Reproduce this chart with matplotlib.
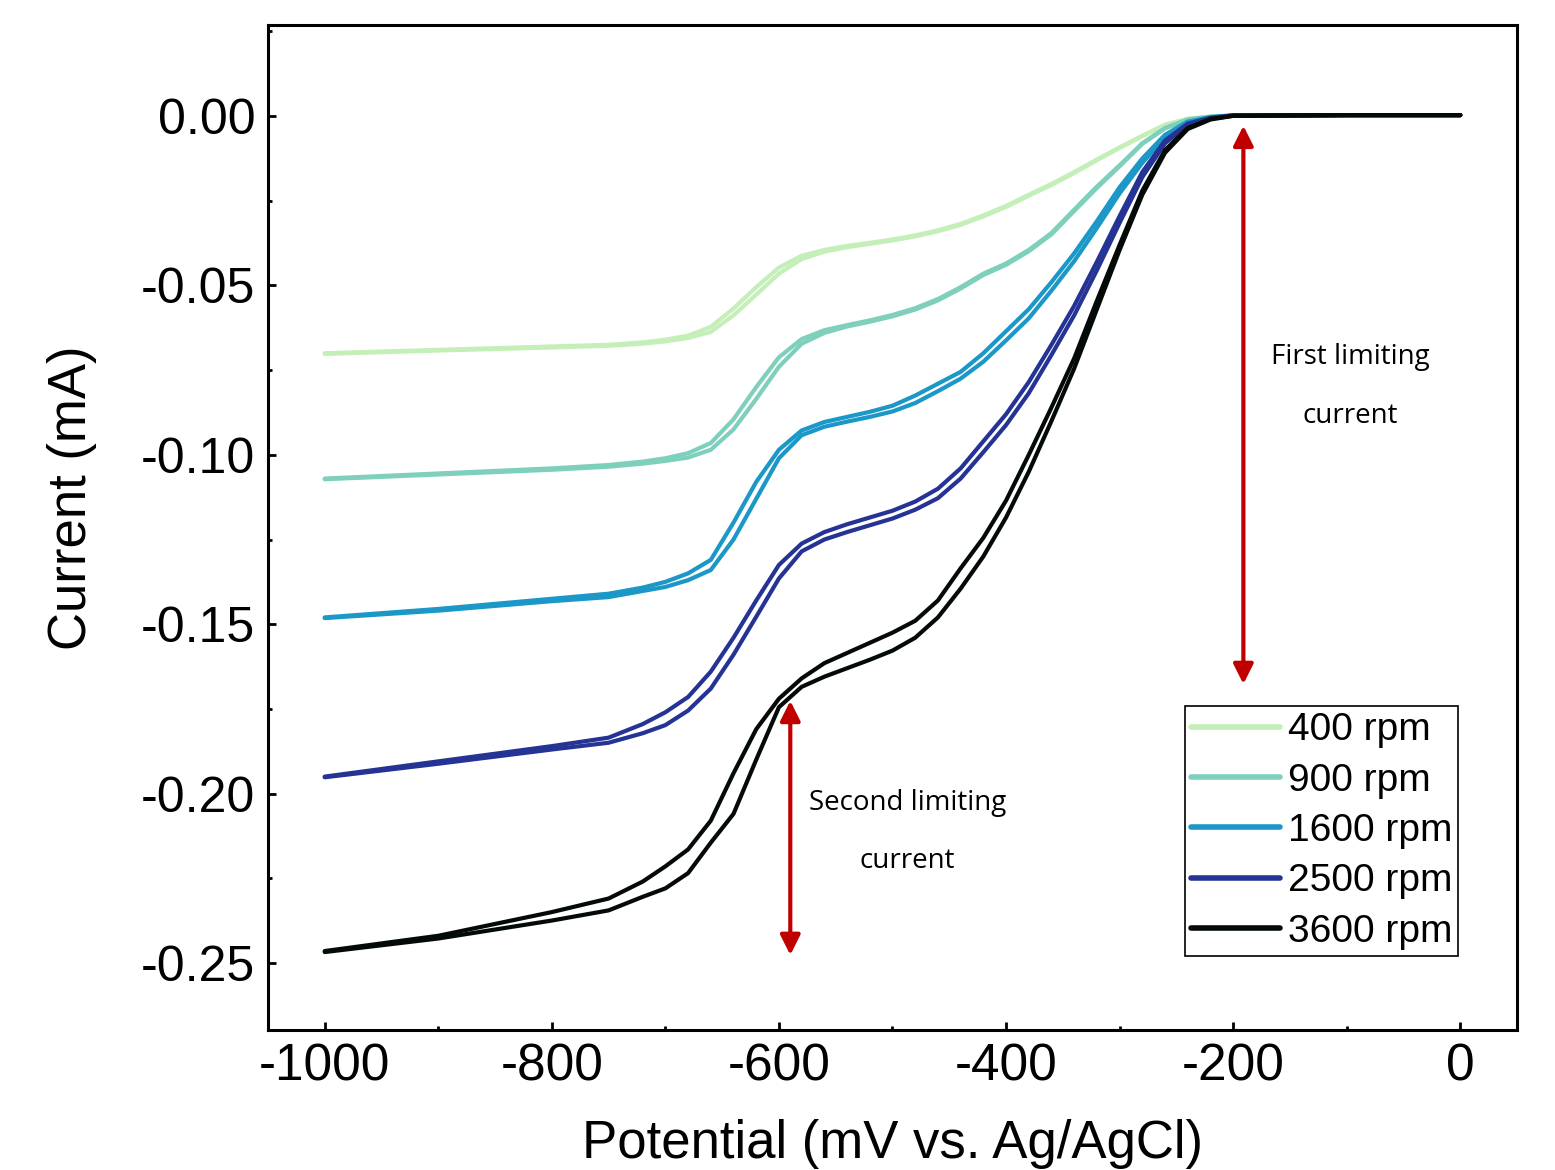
import matplotlib
matplotlib.use("Agg")
import matplotlib.pyplot as plt
from matplotlib.ticker import MultipleLocator

plt.rcParams['font.family'] = ['Liberation Sans', 'DejaVu Sans']
plt.rcParams['axes.unicode_minus'] = False

# potential grid (mV vs. Ag/AgCl)
potential = [-1000, -900, -800, -750, -720, -700, -680, -660, -640, -620, -600, -580,
             -560, -540, -520, -500, -480, -460, -440, -420, -400, -380, -360, -340,
             -320, -300, -280, -260, -240, -220, -200, -100, 0]

# current (mA), two sweeps per rotation rate
i400_a = [-0.0700, -0.0690, -0.0680, -0.0675, -0.0668, -0.0660, -0.0648, -0.0622, -0.0568,
          -0.0505, -0.0447, -0.0412, -0.0395, -0.0383, -0.0374, -0.0364, -0.0352, -0.0337,
          -0.0318, -0.0293, -0.0265, -0.0232, -0.0200, -0.0165, -0.0128, -0.0092, -0.0058,
          -0.0025, -0.0008, -0.0001, 0.0002, 0.0003, 0.0003]
i400_b = [-0.0702, -0.0692, -0.0683, -0.0678, -0.0672, -0.0665, -0.0655, -0.0637, -0.0588,
          -0.0527, -0.0465, -0.0422, -0.0400, -0.0387, -0.0377, -0.0367, -0.0355, -0.0340,
          -0.0321, -0.0296, -0.0268, -0.0235, -0.0203, -0.0168, -0.0130, -0.0094, -0.0059,
          -0.0026, -0.0008, -0.0001, 0.0002, 0.0003, 0.0003]

i900_a = [-0.1070, -0.1055, -0.1040, -0.1030, -0.1020, -0.1010, -0.0995, -0.0965, -0.0895,
          -0.0800, -0.0712, -0.0658, -0.0632, -0.0617, -0.0603, -0.0587, -0.0567, -0.0540,
          -0.0505, -0.0465, -0.0435, -0.0395, -0.0345, -0.0276, -0.0208, -0.0145, -0.0080,
          -0.0035, -0.0010, -0.0002, 0.0002, 0.0003, 0.0003]
i900_b = [-0.1072, -0.1058, -0.1044, -0.1035, -0.1026, -0.1018, -0.1008, -0.0985, -0.0925,
          -0.0835, -0.0740, -0.0672, -0.0640, -0.0621, -0.0607, -0.0591, -0.0571, -0.0544,
          -0.0509, -0.0469, -0.0439, -0.0399, -0.0349, -0.0280, -0.0212, -0.0148, -0.0082,
          -0.0036, -0.0010, -0.0002, 0.0002, 0.0003, 0.0003]

i1600_a = [-0.1480, -0.1455, -0.1425, -0.1410, -0.1392, -0.1375, -0.1350, -0.1310, -0.1200,
           -0.1080, -0.0985, -0.0928, -0.0903, -0.0888, -0.0873, -0.0855, -0.0825, -0.0790,
           -0.0755, -0.0700, -0.0635, -0.0570, -0.0490, -0.0405, -0.0310, -0.0210, -0.0125,
           -0.0055, -0.0016, -0.0003, 0.0002, 0.0003, 0.0003]
i1600_b = [-0.1482, -0.1460, -0.1432, -0.1420, -0.1402, -0.1390, -0.1370, -0.1340, -0.1250,
           -0.1130, -0.1010, -0.0942, -0.0917, -0.0902, -0.0888, -0.0872, -0.0847, -0.0812,
           -0.0775, -0.0725, -0.0662, -0.0597, -0.0515, -0.0428, -0.0330, -0.0228, -0.0138,
           -0.0062, -0.0019, -0.0004, 0.0002, 0.0003, 0.0003]

i2500_a = [-0.1950, -0.1905, -0.1860, -0.1835, -0.1795, -0.1760, -0.1715, -0.1640, -0.1540,
           -0.1430, -0.1325, -0.1262, -0.1228, -0.1205, -0.1185, -0.1165, -0.1138, -0.1100,
           -0.1040, -0.0960, -0.0880, -0.0785, -0.0675, -0.0560, -0.0430, -0.0295, -0.0165,
           -0.0072, -0.0022, -0.0005, 0.0002, 0.0003, 0.0003]
i2500_b = [-0.1952, -0.1912, -0.1870, -0.1850, -0.1822, -0.1798, -0.1755, -0.1690, -0.1590,
           -0.1478, -0.1365, -0.1285, -0.1250, -0.1228, -0.1208, -0.1188, -0.1162, -0.1128,
           -0.1070, -0.0992, -0.0912, -0.0818, -0.0705, -0.0588, -0.0455, -0.0315, -0.0180,
           -0.0080, -0.0025, -0.0006, 0.0002, 0.0003, 0.0003]

i3600_a = [-0.2465, -0.2420, -0.2350, -0.2310, -0.2260, -0.2215, -0.2165, -0.2080, -0.1940,
           -0.1810, -0.1720, -0.1660, -0.1615, -0.1585, -0.1555, -0.1525, -0.1490, -0.1430,
           -0.1335, -0.1245, -0.1135, -0.1000, -0.0860, -0.0715, -0.0545, -0.0380, -0.0220,
           -0.0100, -0.0035, -0.0008, 0.0001, 0.0003, 0.0003]
i3600_b = [-0.2468, -0.2428, -0.2375, -0.2345, -0.2305, -0.2280, -0.2235, -0.2145, -0.2060,
           -0.1900, -0.1745, -0.1685, -0.1655, -0.1630, -0.1605, -0.1578, -0.1540, -0.1480,
           -0.1395, -0.1300, -0.1185, -0.1050, -0.0900, -0.0745, -0.0570, -0.0395, -0.0232,
           -0.0108, -0.0038, -0.0010, 0.0001, 0.0003, 0.0003]

labels = ['400 rpm', '900 rpm', '1600 rpm', '2500 rpm', '3600 rpm']
colors = ['#c5efb8', '#7fcfbd', '#1b97c8', '#253494', '#040a08']
sweeps = [(i400_a, i400_b), (i900_a, i900_b), (i1600_a, i1600_b),
          (i2500_a, i2500_b), (i3600_a, i3600_b)]

fig = plt.figure(figsize=(15.55, 11.7), dpi=100)
ax = fig.add_axes([0.1723, 0.1197, 0.8033, 0.8589])

for (ia, ib), c, lab in zip(sweeps, colors, labels):
    ax.plot(potential, ia, color=c, lw=3, label=lab, solid_capstyle='round',
            solid_joinstyle='round')
    ax.plot(potential, ib, color=c, lw=3, solid_capstyle='round',
            solid_joinstyle='round')

ax.set_xlim(-1050, 50)
ax.set_ylim(-0.2698, 0.0269)

ax.xaxis.set_major_locator(MultipleLocator(200))
ax.xaxis.set_minor_locator(MultipleLocator(100))
ax.yaxis.set_major_locator(MultipleLocator(0.05))
ax.yaxis.set_minor_locator(MultipleLocator(0.025))
ax.yaxis.set_major_formatter(plt.FormatStrFormatter('%.2f'))

ax.tick_params(which='major', direction='in', length=6, width=2, labelsize=36, pad=9)
ax.tick_params(axis='x', which='major', labelsize=37)
ax.tick_params(which='minor', direction='in', length=3, width=2)
for sp in ax.spines.values():
    sp.set_linewidth(2.2)

ax.set_xlabel('Potential (mV vs. Ag/AgCl)', fontsize=38, labelpad=20)
ax.set_ylabel('Current (mA)', fontsize=38)
ax.yaxis.set_label_coords(-0.137, 0.53)

# limiting current arrows
red = '#c00000'
ax.annotate('', xy=(-191, -0.0020), xytext=(-191, -0.1685),
            arrowprops=dict(arrowstyle='<|-|>', color=red, lw=3, mutation_scale=30))
ax.annotate('', xy=(-590, -0.1718), xytext=(-590, -0.2485),
            arrowprops=dict(arrowstyle='<|-|>', color=red, lw=3, mutation_scale=30))

afont = dict(family=['Open Sans', 'DejaVu Sans'], fontsize=20, ha='center', va='center')
ax.text(-97, -0.0711, 'First limiting', **afont)
ax.text(-97, -0.0885, 'current', **afont)
ax.text(-487, -0.2028, 'Second limiting', **afont)
ax.text(-487, -0.2200, 'current', **afont)

leg = ax.legend(loc='lower right', bbox_to_anchor=(0.953, 0.074), fontsize=28,
                frameon=True, fancybox=False, edgecolor='black', framealpha=1,
                handlelength=2.3, handletextpad=0.2, borderpad=0.15,
                labelspacing=0.37, borderaxespad=0)
leg.get_frame().set_linewidth(1.2)
for ln in leg.get_lines():
    ln.set_linewidth(4)

fig.savefig('out.png', dpi=100)
